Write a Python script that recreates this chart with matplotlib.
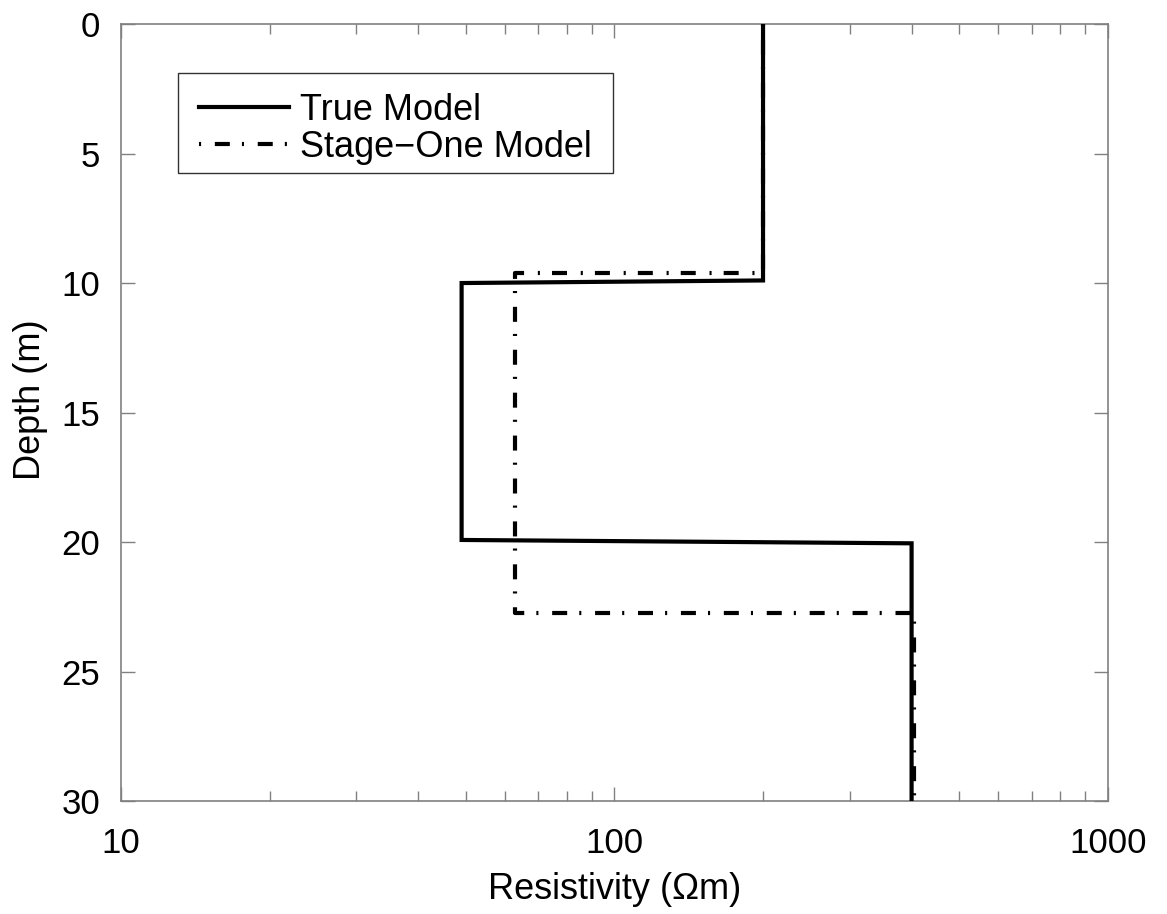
import matplotlib
matplotlib.use("Agg")
import matplotlib.pyplot as plt
from matplotlib.ticker import NullFormatter, LogLocator
from matplotlib.path import Path

# Data
true_depth = [0, 9.9, 10.0, 19.92, 20.05, 30]
true_res = [200, 200, 49, 49, 400, 400]
stage1_depth = [0, 9.6, 9.6, 22.75, 22.75, 30]
stage1_res = [200, 200, 63, 63, 405, 405]
ytick_vals = [0, 5, 10, 15, 20, 25, 30]
xtick_vals = [10, 100, 1000]
xtick_labels = ["10", "100", "1000"]

plt.rcParams['font.family'] = ['Liberation Sans', 'DejaVu Sans']

fig = plt.figure(figsize=(11.67, 9.14), dpi=100)
ax = fig.add_axes([0.1037, 0.1236, 0.8457, 0.8501])

ax.plot(stage1_res, stage1_depth, color='black', lw=3.0,
        linestyle=(6.5, (3.6, 2.9, 0.5, 3.3)), label='Stage\u2212One Model', zorder=2)
ax.plot(true_res, true_depth, color='black', lw=3.0, solid_joinstyle='miter',
        label='True Model', zorder=3)

ax.set_xscale('log')
ax.set_xlim(10, 1000)
ax.set_ylim(30, 0)
ax.set_xticks(xtick_vals)
ax.set_xticklabels(xtick_labels)
ax.xaxis.set_minor_locator(LogLocator(base=10, subs=range(2, 10)))
ax.xaxis.set_minor_formatter(NullFormatter())
ax.set_yticks(ytick_vals)

frame_color = '#808080'
for s in ax.spines.values():
    s.set_color(frame_color)
    s.set_linewidth(1.2)
ax.tick_params(axis='both', which='major', direction='in', length=10, width=1,
               color=frame_color, labelsize=25, top=True, right=True)
ax.tick_params(axis='x', which='major', pad=19)
ax.tick_params(axis='y', which='major', pad=15)
ax.tick_params(axis='x', which='minor', direction='in', length=7, width=1,
               color=frame_color, top=True)

ax.set_xlabel('Resistivity (\u03a9m)', fontsize=26, labelpad=8)
ax.set_ylabel('Depth (m)', fontsize=26)
ax.yaxis.set_label_coords(-0.074, 0.517)


def legend_box(x0, y0, width, height, mutation_size):
    # extra horizontal padding (pixels) and extra on top
    px, pt, pb = 10, 9, -3
    x1 = x0 - px
    x2 = x0 + width + px
    y1 = y0 - pb
    y2 = y0 + height + pt
    return Path([(x1, y1), (x2, y1), (x2, y2), (x1, y2), (x1, y1)], closed=True)


handles, labels = ax.get_legend_handles_labels()
leg = ax.legend(handles[::-1], labels[::-1], loc='upper left',
                bbox_to_anchor=(0.0679, 0.9253), fontsize=26,
                frameon=True, fancybox=False, edgecolor='black',
                handlelength=2.5, borderpad=0.3, labelspacing=0.05,
                handletextpad=0.3, borderaxespad=0)
leg.get_frame().set_linewidth(1.0)
leg.get_frame().set_boxstyle(legend_box)

fig.savefig('out.png', dpi=100, facecolor='white')
